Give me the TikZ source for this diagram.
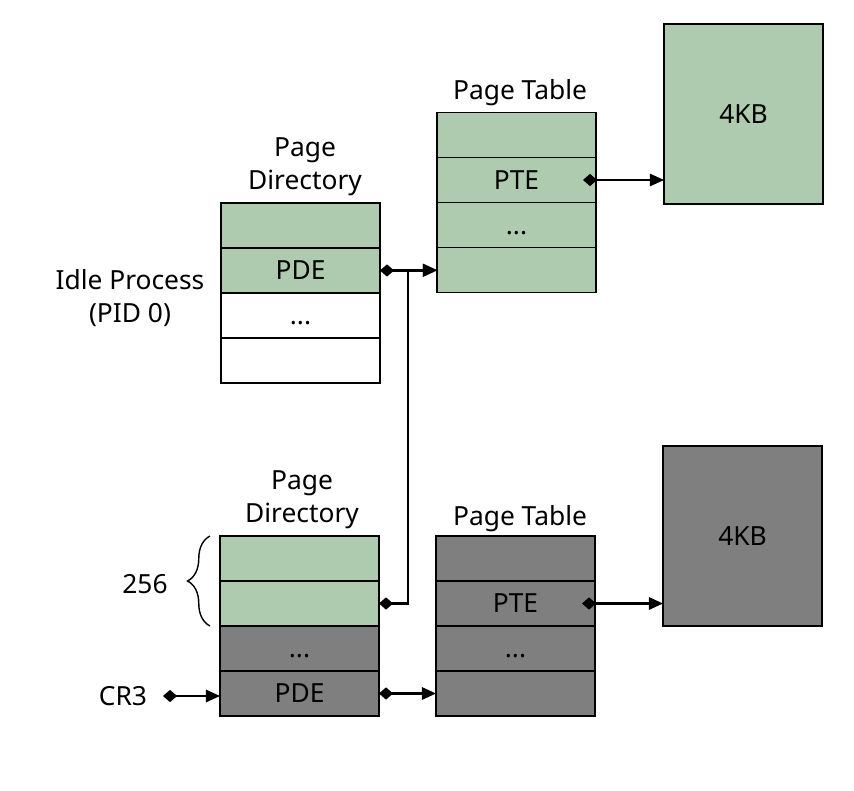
\documentclass[tikz,border=0pt]{standalone}
\usepackage{fontspec}
\setmainfont{Noto Sans}
\usetikzlibrary{arrows.meta,positioning,decorations.pathreplacing}
\definecolor{pggreen}{RGB}{174,203,175}
\definecolor{pggray}{RGB}{127,127,127}
\newcommand{\rowdots}{\raisebox{-0.38cm}{...}}
\tikzset{
  cell/.style={draw, line width=1.1pt, minimum width=3.18cm, minimum height=0.9cm,
    inner sep=0pt, outer sep=0pt, font=\fontsize{15}{18}\selectfont},
  page/.style={draw, line width=1.1pt, minimum width=3.18cm, minimum height=3.6cm,
    inner sep=0pt, outer sep=0pt, font=\fontsize{15}{18}\selectfont},
  lbl/.style={align=center, inner sep=0pt, font=\fontsize{15}{18.5}\selectfont},
  link/.style={line width=1.2pt, {Diamond[length=8pt,width=7pt]}-{Triangle[length=8pt,width=7pt]}}
}
\begin{document}
\begin{tikzpicture}[x=0.02cm, y=-0.02cm]
\useasboundingbox (0,0) rectangle (854,790);

% idle process tables
\foreach \i/\txt/\col in {1//pggreen,2/PDE/pggreen,3/\rowdots/white,4//white}
  \node[cell, fill=\col] (pdA\i) at (300.5, {180.5+45*\i}) {\txt};
\foreach \i/\txt in {1/,2/PTE,3/\rowdots,4/}
  \node[cell, fill=pggreen] (ptA\i) at (516.5, {90+45*\i}) {\txt};
\node[page, fill=pggreen] (pgA) at (743.5,114) {4KB};

% current process tables
\foreach \i/\txt/\col in {1//pggreen,2//pggreen,3/\rowdots/pggray,4/PDE/pggray}
  \node[cell, fill=\col] (pdB\i) at (299.5, {513.5+45*\i}) {\txt};
\foreach \i/\txt in {1/,2/PTE,3/\rowdots,4/}
  \node[cell, fill=pggray] (ptB\i) at (515.5, {513.5+45*\i}) {\txt};
\node[page, fill=pggray] (pgB) at (742.5,536) {4KB};

% labels
\node[lbl] (tPdA) at (305,167) {Page\\Directory};
\node[lbl] (tPtA) at (520,93) {Page Table};
\node[lbl] (tIdle) at (130,298) {Idle Process\\(PID 0)};
\node[lbl] (tPdB) at (302,499.5) {Page\\Directory};
\node[lbl] (tPtB) at (520,519) {Page Table};
\node[lbl] (tNum) at (145,584) {256};
\node[lbl] (tCr) at (123,696) {CR3};

\draw[line width=0.8pt, decorate, decoration={brace, amplitude=0.45cm}]
  ([xshift=-0.2cm]pdB2.south west) -- ([xshift=-0.2cm]pdB1.north west);

% pointers
\coordinate (pteA) at ([xshift=-0.26cm]ptA2.east);
\coordinate (pteB) at ([xshift=-0.26cm]ptB2.east);
\coordinate (crB) at ([xshift=0.8cm]tCr.center);
\draw[link] (pdA2.east) -- (pdA2.east -| ptA4.west);
\draw[link] (pdB2.east) -- ++(29,0) |- (ptA4.west);
\draw[link] (pteA) -- (pteA -| pgA.west);
\draw[link] (pteB) -- (pteB -| pgB.west);
\draw[link] (pdB4.east) -- (pdB4.east -| ptB4.west);
\draw[link] (crB) -- (crB -| pdB4.west);
\end{tikzpicture}
\end{document}
